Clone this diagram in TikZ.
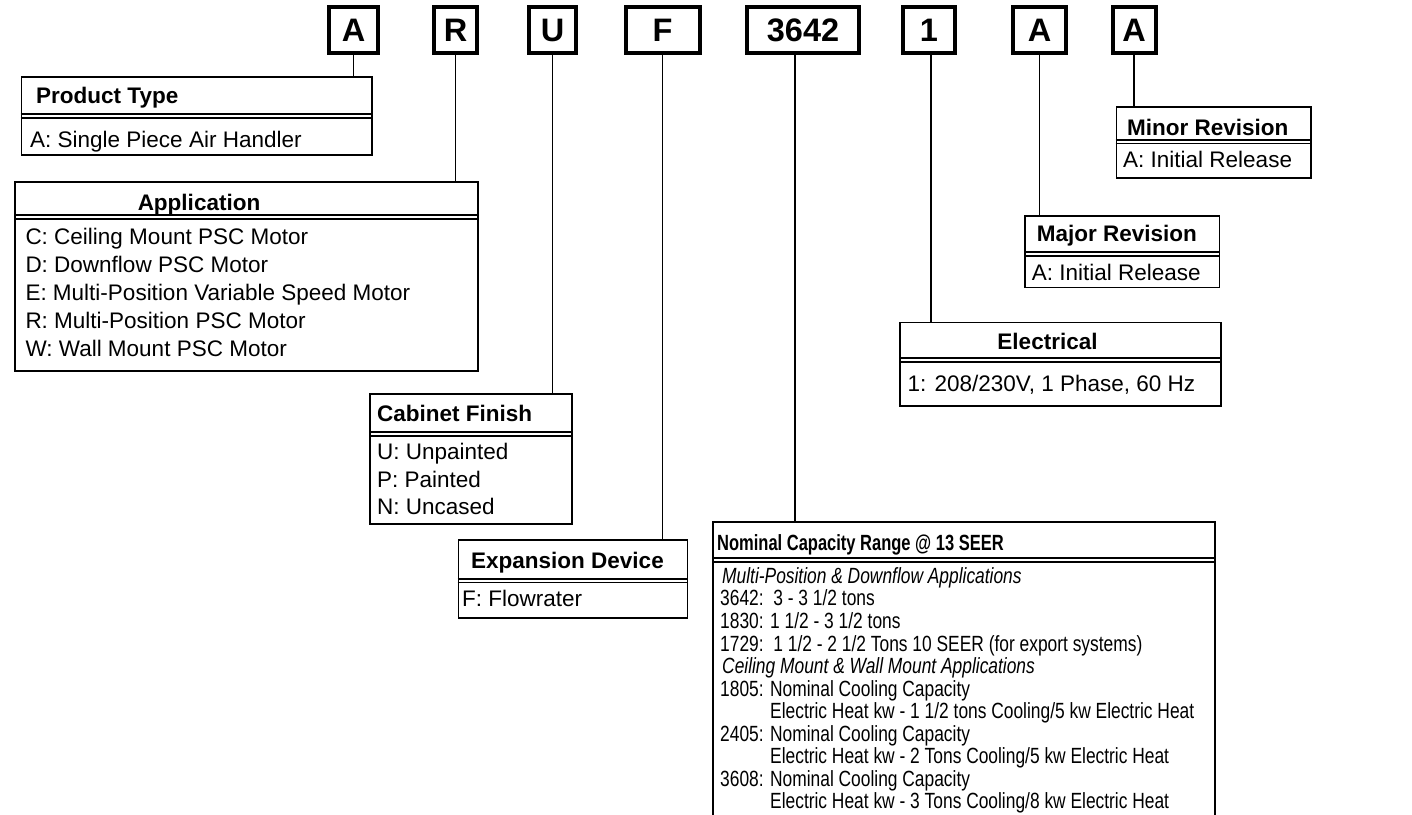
\documentclass[tikz,border=0pt]{standalone}
\usepackage{fontspec}
\setmainfont{Liberation Sans}
\newfontfamily\narrowfont[FakeStretch=0.79]{Liberation Sans}
\newfontfamily\narrowheadfont[FakeStretch=0.75]{Liberation Sans}
\newcommand{\bodysize}{\fontsize{22.5pt}{27pt}\selectfont}
\newcommand{\narrowsize}{\fontsize{22pt}{26pt}\selectfont}
\tikzset{
  code/.style={draw, line width=4pt, inner sep=0pt, minimum height=46pt,
    font=\bfseries\fontsize{32.5pt}{36pt}\selectfont},
  frame/.style={draw, line width=1.5pt, inner sep=0pt, anchor=north west},
  conn/.style={line width=1.5pt},
  sepa/.style={line width=2pt},
  sepb/.style={line width=1.3pt},
  body/.style={anchor=west, inner sep=0pt, text height=16.1pt, text depth=0pt, font=\bodysize},
  head/.style={body, font=\bfseries\bodysize},
  nbody/.style={anchor=west, inner sep=0pt, text height=15.8pt, text depth=0pt, font=\narrowfont\narrowsize},
  nhead/.style={nbody, font=\narrowheadfont\narrowsize\bfseries},
  nital/.style={nbody, font=\narrowfont\narrowsize\itshape}
}
\begin{document}
\begin{tikzpicture}[x=1pt,y=-1pt]
\useasboundingbox (0,0) rectangle (1412,814);
\clip (0,0) rectangle (1412,814);
% code boxes
\node[code, minimum width=49pt] (c1) at (353.5,30) {A};
\node[code, minimum width=43pt] (c2) at (455.5,30) {R};
\node[code, minimum width=47.5pt] (c3) at (552.5,30) {U};
\node[code, minimum width=74pt] (c4) at (662.5,30) {F};
\node[code, minimum width=112pt] (c5) at (803,30) {3642};
\node[code, minimum width=52.5pt] (c6) at (929,30) {1};
\node[code, minimum width=52.5pt] (c7) at (1039.5,30) {A};
\node[code, minimum width=43pt] (c8) at (1134,30) {A};

% Product Type
\node[frame, minimum width=350.3pt, minimum height=78.3pt] (pt) at (20.7,76) {};
\node[head] (pth) at (36,95) {Product Type};
\draw[sepa] (pt.north west |- 0,114) -- (pt.north east |- 0,114);
\draw[sepb] (pt.north west |- 0,118) -- (pt.north east |- 0,118);
\node[body] (ptb) at (30,139) {A: Single Piece Air Handler};

% Application
\node[frame, minimum width=463pt, minimum height=189pt] (ap) at (14,181) {};
\node[head, anchor=center] (aph) at (199,202.7) {Application};
\draw[sepa] (ap.north west |- 0,215) -- (ap.north east |- 0,215);
\draw[sepb] (ap.north west |- 0,219) -- (ap.north east |- 0,219);
\node[body] (ap1) at (25.3,236.7) {C: Ceiling Mount PSC Motor};
\node[body] (ap2) at (25.3,264.5) {D: Downflow PSC Motor};
\node[body] (ap3) at (25.3,292.3) {E: Multi-Position Variable Speed Motor};
\node[body] (ap4) at (25.3,320.3) {R: Multi-Position PSC Motor};
\node[body] (ap5) at (25.3,348.3) {W: Wall Mount PSC Motor};

% Cabinet Finish
\node[frame, minimum width=202pt, minimum height=130pt] (cf) at (369,393) {};
\node[head] (cfh) at (377,413.3) {Cabinet Finish};
\draw[sepa] (cf.north west |- 0,432) -- (cf.north east |- 0,432);
\draw[sepb] (cf.north west |- 0,436) -- (cf.north east |- 0,436);
\node[body] (cf1) at (377,451.7) {U: Unpainted};
\node[body] (cf2) at (377,479.3) {P: Painted};
\node[body] (cf3) at (377,506.7) {N: Uncased};

% Expansion Device
\node[frame, minimum width=229pt, minimum height=78.3pt] (ex) at (457.7,539) {};
\node[head] (exh) at (471,560) {Expansion Device};
\draw[sepa] (ex.north west |- 0,578.5) -- (ex.north east |- 0,578.5);
\draw[sepb] (ex.north west |- 0,582.5) -- (ex.north east |- 0,582.5);
\node[body] (ex1) at (462,598) {F: Flowrater};

% Minor Revision
\node[frame, minimum width=194.5pt, minimum height=71.3pt] (mi) at (1115.7,106) {};
\node[head] (mih) at (1127,127.5) {Minor Revision};
\draw[sepa] (mi.north west |- 0,139.5) -- (mi.north east |- 0,139.5);
\draw[sepb] (mi.north west |- 0,143.5) -- (mi.north east |- 0,143.5);
\node[body] (mi1) at (1123,159) {A: Initial Release};

% Major Revision
\node[frame, minimum width=194.7pt, minimum height=71.7pt] (ma) at (1024,215) {};
\node[head] (mah) at (1036.7,233.3) {Major Revision};
\draw[sepa] (ma.north west |- 0,252) -- (ma.north east |- 0,252);
\draw[sepb] (ma.north west |- 0,256) -- (ma.north east |- 0,256);
\node[body] (ma1) at (1031.7,272) {A: Initial Release};

% Electrical
\node[frame, minimum width=321pt, minimum height=83.3pt] (el) at (899,321.7) {};
\node[head, anchor=center] (elh) at (1047.5,341.7) {Electrical};
\draw[sepa] (el.north west |- 0,358) -- (el.north east |- 0,358);
\draw[sepb] (el.north west |- 0,362) -- (el.north east |- 0,362);
\node[body] (el1) at (907.3,383.3) {1: 208/230V, 1 Phase, 60 Hz};

% Nominal Capacity
\node[frame, minimum width=502pt, minimum height=320pt] (nc) at (712,521) {};
\node[nhead] (nch) at (717,543) {Nominal Capacity Range @ 13 SEER};
\draw[sepa] (nc.north west |- 0,558) -- (nc.north east |- 0,558);
\draw[sepb] (nc.north west |- 0,562) -- (nc.north east |- 0,562);
\node[nital] (n0) at (722,575.5) {Multi-Position \& Downflow Applications};
\node[nbody] (n1) at (720,598) {3642:\ \ 3 - 3 1/2 tons};
\node[nbody] (n2) at (720,620.6) {1830: 1 1/2 - 3 1/2 tons};
\node[nbody] (n3) at (720,643.1) {1729:\ \ 1 1/2 - 2 1/2 Tons 10 SEER (for export systems)};
\node[nital] (n4) at (722,665.7) {Ceiling Mount \& Wall Mount Applications};
\node[nbody] (n5) at (720,688.2) {1805: Nominal Cooling Capacity};
\node[nbody] (n6) at (770,710.8) {Electric Heat kw - 1 1/2 tons Cooling/5 kw Electric Heat};
\node[nbody] (n7) at (720,733.3) {2405: Nominal Cooling Capacity};
\node[nbody] (n8) at (770,755.9) {Electric Heat kw - 2 Tons Cooling/5 kw Electric Heat};
\node[nbody] (n9) at (720,778.4) {3608: Nominal Cooling Capacity};
\node[nbody] (n10) at (770,801) {Electric Heat kw - 3 Tons Cooling/8 kw Electric Heat};

% connectors
\draw[conn] (c1.south) -- (c1.south |- pt.north);
\draw[conn] (c2.south) -- (c2.south |- ap.north);
\draw[conn] (c3.south) -- (c3.south |- cf.north);
\draw[conn] (c4.south) -- (c4.south |- ex.north);
\draw[conn] ([xshift=-8pt]c5.south) -- ([xshift=-8pt]c5.south |- nc.north);
\draw[conn] ([xshift=2pt]c6.south) -- ([xshift=2pt]c6.south |- el.north);
\draw[conn] (c7.south) -- (c7.south |- ma.north);
\draw[conn] (c8.south) -- (c8.south |- mi.north);
\end{tikzpicture}
\end{document}
